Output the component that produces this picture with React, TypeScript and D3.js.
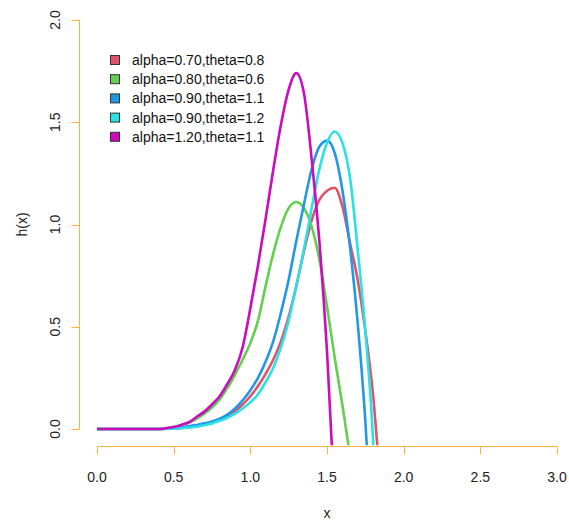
import React from "react";
import * as d3 from "d3";

const xs = [0, 0.05, 0.1, 0.15, 0.2, 0.25, 0.3, 0.35, 0.4, 0.45, 0.5, 0.55, 0.6, 0.65, 0.7, 0.75, 0.8, 0.85, 0.9, 0.95, 1.0, 1.05, 1.1, 1.15, 1.2, 1.25, 1.3, 1.35, 1.4, 1.45, 1.5, 1.55, 1.6, 1.65, 1.7, 1.75, 1.8, 1.85];

const hRed = [0, 0, 0, 0, 0, 0, 0, 0, 0, 0.001, 0.003, 0.005, 0.009, 0.014, 0.022, 0.032, 0.046, 0.064, 0.088, 0.12, 0.16, 0.21, 0.27, 0.34, 0.43, 0.55, 0.70, 0.87, 1.02, 1.12, 1.165, 1.18, 1.09, 0.91, 0.73, 0.48, 0.17, -0.3];
const hGreen = [0, 0, 0, 0, 0, 0, 0, 0, 0, 0.004, 0.01, 0.02, 0.032, 0.05, 0.075, 0.105, 0.145, 0.2, 0.265, 0.34, 0.42, 0.53, 0.70, 0.86, 0.99, 1.08, 1.11, 1.08, 0.99, 0.83, 0.60, 0.35, 0.12, -0.13, null, null, null, null];
const hBlue = [0, 0, 0, 0, 0, 0, 0, 0, 0, 0.002, 0.004, 0.008, 0.014, 0.02, 0.028, 0.037, 0.05, 0.07, 0.10, 0.14, 0.19, 0.25, 0.33, 0.43, 0.57, 0.73, 0.92, 1.10, 1.27, 1.38, 1.41, 1.35, 1.17, 0.89, 0.52, 0.04, -0.6, null];
const hCyan = [0, 0, 0, 0, 0, 0, 0, 0, 0, 0.001, 0.002, 0.004, 0.007, 0.011, 0.018, 0.027, 0.04, 0.055, 0.075, 0.10, 0.13, 0.17, 0.23, 0.30, 0.40, 0.53, 0.70, 0.88, 1.08, 1.27, 1.40, 1.455, 1.40, 1.23, 0.88, 0.48, -0.05, -1.0];
const hMagenta = [0, 0, 0, 0, 0, 0, 0, 0, 0, 0.004, 0.01, 0.02, 0.033, 0.06, 0.085, 0.12, 0.16, 0.22, 0.29, 0.40, 0.59, 0.80, 1.03, 1.27, 1.49, 1.66, 1.74, 1.64, 1.32, 0.92, 0.38, -0.35, null, null, null, null, null, null];

const seriesLabels = ["alpha=0.70,theta=0.8", "alpha=0.80,theta=0.6", "alpha=0.90,theta=1.1", "alpha=0.90,theta=1.2", "alpha=1.20,theta=1.1"];
const seriesColors = ["#DF536B", "#61D04F", "#2297E6", "#28E2E5", "#CD0BBC"];
const seriesValues = [hRed, hGreen, hBlue, hCyan, hMagenta];

const xTicks = [0, 0.5, 1.0, 1.5, 2.0, 2.5, 3.0];
const yTicks = [0, 0.5, 1.0, 1.5, 2.0];

export default function App() {
  const W = 569, H = 522;
  const x = d3.scaleLinear().domain([0, 3]).range([97, 557]);
  const y = d3.scaleLinear().domain([0, 2]).range([429, 20]);
  const px0 = x(-0.12), px1 = x(3.12), py0 = y(2.08), py1 = y(-0.08);
  const axisColor = "#FFB13B";
  const font = "'Liberation Sans', Arial, Helvetica, sans-serif";
  const fs = 14;

  const line = d3.line<[number, number | null]>()
    .defined(d => d[1] !== null)
    .x(d => x(d[0]))
    .y(d => y(d[1] as number))
    .curve(d3.curveMonotoneX);

  return (
    <svg width={W} height={H} style={{ position: "absolute", left: 0, top: 0, background: "#fff", fontFamily: font }}>
      <defs>
        <clipPath id="plotclip">
          <rect x={px0} y={py0} width={px1 - px0} height={py1 - py0} />
        </clipPath>
      </defs>
      <g clipPath="url(#plotclip)">
        {seriesValues.map((vals, i) => (
          <path key={i} d={line(xs.map((xv, j) => [xv, vals[j]]) as any) || ""} fill="none" stroke={seriesColors[i]} strokeWidth={2.6} strokeLinejoin="round" />
        ))}
      </g>
      <g stroke={axisColor} strokeWidth={1} fill="none">
        <line x1={x(0)} x2={x(3)} y1={446.5} y2={446.5} />
        {xTicks.map(t => (
          <line key={t} x1={Math.round(x(t)) + 0.5} x2={Math.round(x(t)) + 0.5} y1={446.5} y2={454.5} />
        ))}
        <line x1={79.5} x2={79.5} y1={y(0)} y2={y(2)} />
        {yTicks.map(t => (
          <line key={t} x1={79.5} x2={71.5} y1={Math.round(y(t)) + 0.5} y2={Math.round(y(t)) + 0.5} />
        ))}
      </g>
      {xTicks.map(t => (
        <text key={t} x={x(t)} y={482} textAnchor="middle" style={{ fontSize: fs, fontFamily: font }} fill="#222">{t.toFixed(1)}</text>
      ))}
      {yTicks.map(t => (
        <text key={t} transform={`translate(60,${y(t)}) rotate(-90)`} textAnchor="middle" style={{ fontSize: fs, fontFamily: font }} fill="#222">{t.toFixed(1)}</text>
      ))}
      <text x={x(1.5)} y={518} textAnchor="middle" style={{ fontSize: fs, fontFamily: font }} fill="#222">x</text>
      <text transform={`translate(27,${y(1)}) rotate(-90)`} textAnchor="middle" style={{ fontSize: fs, fontFamily: font }} fill="#222">h(x)</text>
      {seriesLabels.map((lab, i) => (
        <g key={lab} transform={`translate(0,${60 + i * 19.2})`}>
          <rect x={110.5} y={-4.5} width={9} height={9} fill={seriesColors[i]} stroke="#333" strokeWidth={1} />
          <text x={132} y={5} style={{ fontSize: fs, fontFamily: font }} fill="#111">{lab}</text>
        </g>
      ))}
    </svg>
  );
}
